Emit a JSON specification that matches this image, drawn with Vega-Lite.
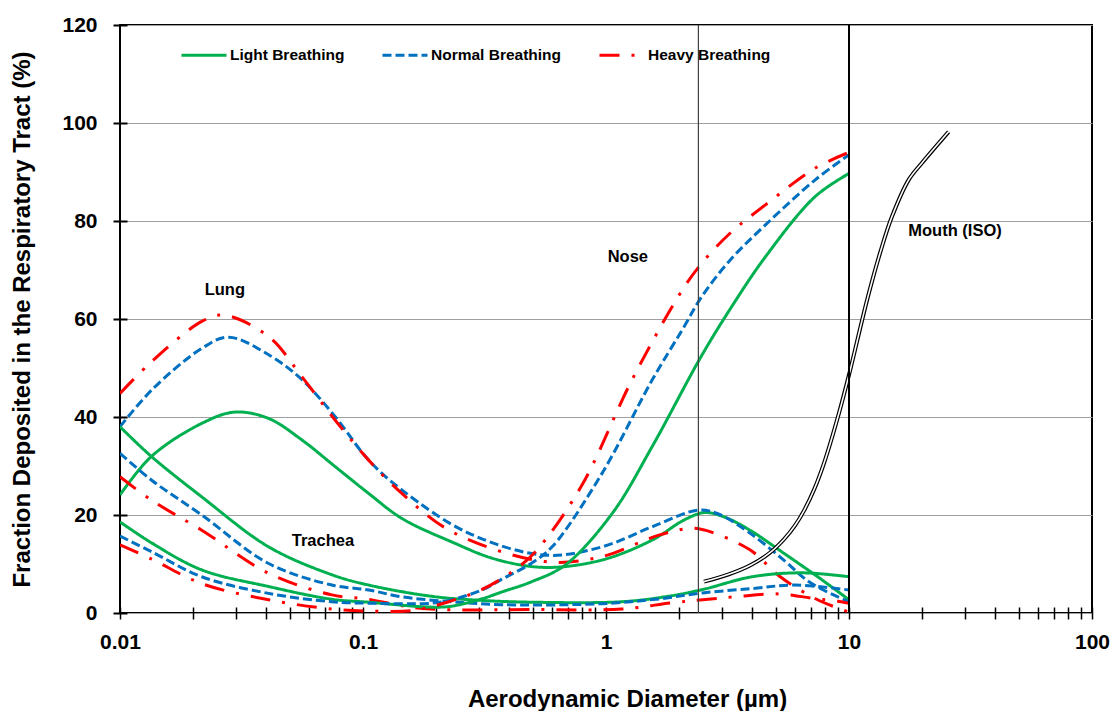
{
  "$schema": "https://vega.github.io/schema/vega-lite/v6.json",
  "width": 972,
  "height": 588,
  "autosize": {"type": "none"},
  "padding": {"left": 120, "top": 25, "right": 22, "bottom": 98},
  "background": "white",
  "config": {
    "font": "Liberation Sans",
    "view": {"stroke": "black", "strokeWidth": 2}
  },
  "datasets": {
    "curves": [
      {"region": "Lung", "breathing": "Light Breathing", "d": 0.01, "f": 24.1},
      {"region": "Lung", "breathing": "Light Breathing", "d": 0.0135, "f": 32},
      {"region": "Lung", "breathing": "Light Breathing", "d": 0.0217, "f": 38.7},
      {"region": "Lung", "breathing": "Light Breathing", "d": 0.0297, "f": 41.0},
      {"region": "Lung", "breathing": "Light Breathing", "d": 0.0409, "f": 39.7},
      {"region": "Lung", "breathing": "Light Breathing", "d": 0.0561, "f": 35.3},
      {"region": "Lung", "breathing": "Light Breathing", "d": 0.0767, "f": 29.9},
      {"region": "Lung", "breathing": "Light Breathing", "d": 0.1055, "f": 24.4},
      {"region": "Lung", "breathing": "Light Breathing", "d": 0.1445, "f": 19.3},
      {"region": "Lung", "breathing": "Light Breathing", "d": 0.232, "f": 14.5},
      {"region": "Lung", "breathing": "Light Breathing", "d": 0.35, "f": 11},
      {"region": "Lung", "breathing": "Light Breathing", "d": 0.56, "f": 9.3},
      {"region": "Lung", "breathing": "Light Breathing", "d": 0.96, "f": 10.8},
      {"region": "Lung", "breathing": "Light Breathing", "d": 1.55, "f": 14.9},
      {"region": "Lung", "breathing": "Light Breathing", "d": 2.1, "f": 19},
      {"region": "Lung", "breathing": "Light Breathing", "d": 2.55, "f": 20.5},
      {"region": "Lung", "breathing": "Light Breathing", "d": 3.1, "f": 19.5},
      {"region": "Lung", "breathing": "Light Breathing", "d": 3.91, "f": 16.9},
      {"region": "Lung", "breathing": "Light Breathing", "d": 5.39, "f": 12.2},
      {"region": "Lung", "breathing": "Light Breathing", "d": 7.43, "f": 7.4},
      {"region": "Lung", "breathing": "Light Breathing", "d": 10, "f": 2.7},

      {"region": "Lung", "breathing": "Normal Breathing", "d": 0.01, "f": 38},
      {"region": "Lung", "breathing": "Normal Breathing", "d": 0.0135, "f": 45.5},
      {"region": "Lung", "breathing": "Normal Breathing", "d": 0.0217, "f": 54.0},
      {"region": "Lung", "breathing": "Normal Breathing", "d": 0.028, "f": 56.3},
      {"region": "Lung", "breathing": "Normal Breathing", "d": 0.0409, "f": 52.7},
      {"region": "Lung", "breathing": "Normal Breathing", "d": 0.0561, "f": 47.6},
      {"region": "Lung", "breathing": "Normal Breathing", "d": 0.0767, "f": 40.1},
      {"region": "Lung", "breathing": "Normal Breathing", "d": 0.1055, "f": 31.2},
      {"region": "Lung", "breathing": "Normal Breathing", "d": 0.1445, "f": 25.1},
      {"region": "Lung", "breathing": "Normal Breathing", "d": 0.272, "f": 16.3},
      {"region": "Lung", "breathing": "Normal Breathing", "d": 0.562, "f": 11.8},
      {"region": "Lung", "breathing": "Normal Breathing", "d": 0.963, "f": 13.5},
      {"region": "Lung", "breathing": "Normal Breathing", "d": 1.55, "f": 17.6},
      {"region": "Lung", "breathing": "Normal Breathing", "d": 2.4, "f": 21.0},
      {"region": "Lung", "breathing": "Normal Breathing", "d": 2.9, "f": 20.2},
      {"region": "Lung", "breathing": "Normal Breathing", "d": 3.91, "f": 16.3},
      {"region": "Lung", "breathing": "Normal Breathing", "d": 5.39, "f": 10.8},
      {"region": "Lung", "breathing": "Normal Breathing", "d": 6.97, "f": 6.1},
      {"region": "Lung", "breathing": "Normal Breathing", "d": 10, "f": 2.3},

      {"region": "Lung", "breathing": "Heavy Breathing", "d": 0.01, "f": 44.8},
      {"region": "Lung", "breathing": "Heavy Breathing", "d": 0.0135, "f": 51.3},
      {"region": "Lung", "breathing": "Heavy Breathing", "d": 0.0217, "f": 59.5},
      {"region": "Lung", "breathing": "Heavy Breathing", "d": 0.0267, "f": 60.8},
      {"region": "Lung", "breathing": "Heavy Breathing", "d": 0.0409, "f": 56.4},
      {"region": "Lung", "breathing": "Heavy Breathing", "d": 0.0561, "f": 48.2},
      {"region": "Lung", "breathing": "Heavy Breathing", "d": 0.0767, "f": 39.4},
      {"region": "Lung", "breathing": "Heavy Breathing", "d": 0.1055, "f": 31.2},
      {"region": "Lung", "breathing": "Heavy Breathing", "d": 0.1445, "f": 24.4},
      {"region": "Lung", "breathing": "Heavy Breathing", "d": 0.232, "f": 16.6},
      {"region": "Lung", "breathing": "Heavy Breathing", "d": 0.56, "f": 10.5},
      {"region": "Lung", "breathing": "Heavy Breathing", "d": 0.96, "f": 11.5},
      {"region": "Lung", "breathing": "Heavy Breathing", "d": 1.65, "f": 15.9},
      {"region": "Lung", "breathing": "Heavy Breathing", "d": 2.26, "f": 17.3},
      {"region": "Lung", "breathing": "Heavy Breathing", "d": 2.6, "f": 16.8},
      {"region": "Lung", "breathing": "Heavy Breathing", "d": 3.91, "f": 12.9},
      {"region": "Lung", "breathing": "Heavy Breathing", "d": 5.21, "f": 7.4},
      {"region": "Lung", "breathing": "Heavy Breathing", "d": 7.43, "f": 2.7},
      {"region": "Lung", "breathing": "Heavy Breathing", "d": 10, "f": 0.2},

      {"region": "Trachea", "breathing": "Light Breathing", "d": 0.01, "f": 38},
      {"region": "Trachea", "breathing": "Light Breathing", "d": 0.0135, "f": 31.9},
      {"region": "Trachea", "breathing": "Light Breathing", "d": 0.0217, "f": 23.7},
      {"region": "Trachea", "breathing": "Light Breathing", "d": 0.0409, "f": 13.5},
      {"region": "Trachea", "breathing": "Light Breathing", "d": 0.0745, "f": 7.8},
      {"region": "Trachea", "breathing": "Light Breathing", "d": 0.1055, "f": 5.7},
      {"region": "Trachea", "breathing": "Light Breathing", "d": 0.192, "f": 3.4},
      {"region": "Trachea", "breathing": "Light Breathing", "d": 0.3, "f": 2.6},
      {"region": "Trachea", "breathing": "Light Breathing", "d": 0.5, "f": 2.2},
      {"region": "Trachea", "breathing": "Light Breathing", "d": 1.16, "f": 2.3},
      {"region": "Trachea", "breathing": "Light Breathing", "d": 1.8, "f": 3.4},
      {"region": "Trachea", "breathing": "Light Breathing", "d": 2.5, "f": 4.8},
      {"region": "Trachea", "breathing": "Light Breathing", "d": 4.0, "f": 7.4},
      {"region": "Trachea", "breathing": "Light Breathing", "d": 6.4, "f": 8.2},
      {"region": "Trachea", "breathing": "Light Breathing", "d": 10, "f": 7.4},

      {"region": "Trachea", "breathing": "Normal Breathing", "d": 0.01, "f": 32.6},
      {"region": "Trachea", "breathing": "Normal Breathing", "d": 0.0135, "f": 27.1},
      {"region": "Trachea", "breathing": "Normal Breathing", "d": 0.0217, "f": 20},
      {"region": "Trachea", "breathing": "Normal Breathing", "d": 0.0409, "f": 10.1},
      {"region": "Trachea", "breathing": "Normal Breathing", "d": 0.0745, "f": 5.7},
      {"region": "Trachea", "breathing": "Normal Breathing", "d": 0.1055, "f": 4.7},
      {"region": "Trachea", "breathing": "Normal Breathing", "d": 0.1445, "f": 3.3},
      {"region": "Trachea", "breathing": "Normal Breathing", "d": 0.232, "f": 2.3},
      {"region": "Trachea", "breathing": "Normal Breathing", "d": 0.373, "f": 1.7},
      {"region": "Trachea", "breathing": "Normal Breathing", "d": 0.96, "f": 1.9},
      {"region": "Trachea", "breathing": "Normal Breathing", "d": 1.6, "f": 2.8},
      {"region": "Trachea", "breathing": "Normal Breathing", "d": 2.5, "f": 4.1},
      {"region": "Trachea", "breathing": "Normal Breathing", "d": 4.0, "f": 5.0},
      {"region": "Trachea", "breathing": "Normal Breathing", "d": 6.0, "f": 5.7},
      {"region": "Trachea", "breathing": "Normal Breathing", "d": 10, "f": 4.7},

      {"region": "Trachea", "breathing": "Heavy Breathing", "d": 0.01, "f": 27.8},
      {"region": "Trachea", "breathing": "Heavy Breathing", "d": 0.0135, "f": 23},
      {"region": "Trachea", "breathing": "Heavy Breathing", "d": 0.0217, "f": 16.9},
      {"region": "Trachea", "breathing": "Heavy Breathing", "d": 0.0409, "f": 8.1},
      {"region": "Trachea", "breathing": "Heavy Breathing", "d": 0.0745, "f": 3.7},
      {"region": "Trachea", "breathing": "Heavy Breathing", "d": 0.1055, "f": 2.8},
      {"region": "Trachea", "breathing": "Heavy Breathing", "d": 0.14, "f": 1.6},
      {"region": "Trachea", "breathing": "Heavy Breathing", "d": 0.19, "f": 0.8},
      {"region": "Trachea", "breathing": "Heavy Breathing", "d": 0.5, "f": 0.7},
      {"region": "Trachea", "breathing": "Heavy Breathing", "d": 1.16, "f": 0.8},
      {"region": "Trachea", "breathing": "Heavy Breathing", "d": 1.87, "f": 2.1},
      {"region": "Trachea", "breathing": "Heavy Breathing", "d": 2.5, "f": 2.7},
      {"region": "Trachea", "breathing": "Heavy Breathing", "d": 3.4, "f": 3.3},
      {"region": "Trachea", "breathing": "Heavy Breathing", "d": 5.14, "f": 3.9},
      {"region": "Trachea", "breathing": "Heavy Breathing", "d": 7.1, "f": 3.0},
      {"region": "Trachea", "breathing": "Heavy Breathing", "d": 9.0, "f": 2.4},
      {"region": "Trachea", "breathing": "Heavy Breathing", "d": 10, "f": 2.0},

      {"region": "Nose", "breathing": "Light Breathing", "d": 0.01, "f": 18.6},
      {"region": "Nose", "breathing": "Light Breathing", "d": 0.0135, "f": 14.3},
      {"region": "Nose", "breathing": "Light Breathing", "d": 0.0217, "f": 8.8},
      {"region": "Nose", "breathing": "Light Breathing", "d": 0.0409, "f": 5.4},
      {"region": "Nose", "breathing": "Light Breathing", "d": 0.0745, "f": 2.8},
      {"region": "Nose", "breathing": "Light Breathing", "d": 0.1055, "f": 2.2},
      {"region": "Nose", "breathing": "Light Breathing", "d": 0.19, "f": 1.2},
      {"region": "Nose", "breathing": "Light Breathing", "d": 0.232, "f": 1.4},
      {"region": "Nose", "breathing": "Light Breathing", "d": 0.309, "f": 2.9},
      {"region": "Nose", "breathing": "Light Breathing", "d": 0.373, "f": 4.3},
      {"region": "Nose", "breathing": "Light Breathing", "d": 0.495, "f": 6.4},
      {"region": "Nose", "breathing": "Light Breathing", "d": 0.68, "f": 9.8},
      {"region": "Nose", "breathing": "Light Breathing", "d": 1.06, "f": 20.3},
      {"region": "Nose", "breathing": "Light Breathing", "d": 1.55, "f": 34},
      {"region": "Nose", "breathing": "Light Breathing", "d": 2.46, "f": 52.3},
      {"region": "Nose", "breathing": "Light Breathing", "d": 3.24, "f": 62},
      {"region": "Nose", "breathing": "Light Breathing", "d": 4.53, "f": 72.7},
      {"region": "Nose", "breathing": "Light Breathing", "d": 7.26, "f": 85.0},
      {"region": "Nose", "breathing": "Light Breathing", "d": 10, "f": 89.7},

      {"region": "Nose", "breathing": "Normal Breathing", "d": 0.01, "f": 15.7},
      {"region": "Nose", "breathing": "Normal Breathing", "d": 0.0135, "f": 12.5},
      {"region": "Nose", "breathing": "Normal Breathing", "d": 0.0217, "f": 7.4},
      {"region": "Nose", "breathing": "Normal Breathing", "d": 0.0409, "f": 4.0},
      {"region": "Nose", "breathing": "Normal Breathing", "d": 0.0745, "f": 2.3},
      {"region": "Nose", "breathing": "Normal Breathing", "d": 0.1055, "f": 2.0},
      {"region": "Nose", "breathing": "Normal Breathing", "d": 0.192, "f": 2.0},
      {"region": "Nose", "breathing": "Normal Breathing", "d": 0.232, "f": 2.7},
      {"region": "Nose", "breathing": "Normal Breathing", "d": 0.309, "f": 4.7},
      {"region": "Nose", "breathing": "Normal Breathing", "d": 0.373, "f": 6.9},
      {"region": "Nose", "breathing": "Normal Breathing", "d": 0.495, "f": 10.2},
      {"region": "Nose", "breathing": "Normal Breathing", "d": 0.6, "f": 13.5},
      {"region": "Nose", "breathing": "Normal Breathing", "d": 0.963, "f": 28.5},
      {"region": "Nose", "breathing": "Normal Breathing", "d": 1.55, "f": 47.6},
      {"region": "Nose", "breathing": "Normal Breathing", "d": 2.06, "f": 57.8},
      {"region": "Nose", "breathing": "Normal Breathing", "d": 2.48, "f": 64.6},
      {"region": "Nose", "breathing": "Normal Breathing", "d": 3.24, "f": 72.0},
      {"region": "Nose", "breathing": "Normal Breathing", "d": 4.53, "f": 79.2},
      {"region": "Nose", "breathing": "Normal Breathing", "d": 7.26, "f": 88.4},
      {"region": "Nose", "breathing": "Normal Breathing", "d": 10, "f": 93.5},

      {"region": "Nose", "breathing": "Heavy Breathing", "d": 0.01, "f": 13.9},
      {"region": "Nose", "breathing": "Heavy Breathing", "d": 0.0135, "f": 11},
      {"region": "Nose", "breathing": "Heavy Breathing", "d": 0.0217, "f": 6.0},
      {"region": "Nose", "breathing": "Heavy Breathing", "d": 0.0409, "f": 2.7},
      {"region": "Nose", "breathing": "Heavy Breathing", "d": 0.0745, "f": 0.8},
      {"region": "Nose", "breathing": "Heavy Breathing", "d": 0.1055, "f": 0.4},
      {"region": "Nose", "breathing": "Heavy Breathing", "d": 0.16, "f": 0.5},
      {"region": "Nose", "breathing": "Heavy Breathing", "d": 0.225, "f": 2.3},
      {"region": "Nose", "breathing": "Heavy Breathing", "d": 0.309, "f": 4.8},
      {"region": "Nose", "breathing": "Heavy Breathing", "d": 0.41, "f": 8.4},
      {"region": "Nose", "breathing": "Heavy Breathing", "d": 0.51, "f": 12.4},
      {"region": "Nose", "breathing": "Heavy Breathing", "d": 0.79, "f": 25.8},
      {"region": "Nose", "breathing": "Heavy Breathing", "d": 1.28, "f": 47.6},
      {"region": "Nose", "breathing": "Heavy Breathing", "d": 2.06, "f": 65.9},
      {"region": "Nose", "breathing": "Heavy Breathing", "d": 2.48, "f": 71.4},
      {"region": "Nose", "breathing": "Heavy Breathing", "d": 3.24, "f": 77.5},
      {"region": "Nose", "breathing": "Heavy Breathing", "d": 4.53, "f": 83.3},
      {"region": "Nose", "breathing": "Heavy Breathing", "d": 7.26, "f": 90.8},
      {"region": "Nose", "breathing": "Heavy Breathing", "d": 10, "f": 94.0}
    ],
    "mouth": [
      {"d": 2.53, "f": 6.4},
      {"d": 3.2, "f": 7.9},
      {"d": 3.91, "f": 9.7},
      {"d": 4.7, "f": 12.2},
      {"d": 5.39, "f": 15.0},
      {"d": 6.0, "f": 17.9},
      {"d": 6.53, "f": 20.9},
      {"d": 7.2, "f": 25.3},
      {"d": 7.92, "f": 30.8},
      {"d": 9.06, "f": 40.5},
      {"d": 10, "f": 48.6},
      {"d": 11.9, "f": 64.1},
      {"d": 13.5, "f": 73.9},
      {"d": 15.0, "f": 80.8},
      {"d": 17.6, "f": 88.4},
      {"d": 20, "f": 91.9},
      {"d": 25.7, "f": 98.2}
    ],
    "labels": [
      {"text": "Lung", "d": 0.027, "f": 66},
      {"text": "Trachea", "d": 0.0684, "f": 14.7},
      {"text": "Nose", "d": 1.23, "f": 72.7},
      {"text": "Mouth (ISO)", "d": 27.3, "f": 78}
    ]
  },
  "encoding": {
    "x": {
      "field": "d",
      "type": "quantitative",
      "scale": {"type": "log", "domain": [0.01, 100], "nice": false},
      "axis": {
        "values": [0.01, 0.02, 0.03, 0.04, 0.05, 0.06, 0.07, 0.08, 0.09, 0.1, 0.2, 0.3, 0.4, 0.5, 0.6, 0.7, 0.8, 0.9, 1, 2, 3, 4, 5, 6, 7, 8, 9, 10, 20, 30, 40, 50, 60, 70, 80, 90, 100],
        "labelExpr": "indexof([0.01, 0.1, 1, 10, 100], datum.value) >= 0 ? format(datum.value, '~g') : ''",
        "offset": -6,
        "domain": false,
        "grid": false,
        "tickSize": 12,
        "tickWidth": 1.5,
        "tickColor": "black",
        "labelFontSize": 21,
        "labelFontWeight": "bold",
        "labelColor": "black",
        "labelPadding": 12,
        "labelFlush": false,
        "labelOverlap": false,
        "labelBound": false,
        "title": "Aerodynamic Diameter (µm)",
        "titleFontSize": 24,
        "titleFontWeight": "bold",
        "titleColor": "black",
        "titleX": 507,
        "titleY": 92,
        "titleBaseline": "middle",
        "titleAlign": "center"
      }
    },
    "y": {
      "field": "f",
      "type": "quantitative",
      "scale": {"domain": [0, 120], "nice": false},
      "axis": {
        "values": [0, 20, 40, 60, 80, 100, 120],
        "offset": -7,
        "domain": false,
        "grid": true,
        "gridColor": "#a0a0a0",
        "gridWidth": 1,
        "tickSize": 14,
        "tickWidth": 2,
        "tickColor": "black",
        "labelFontSize": 21,
        "labelFontWeight": "bold",
        "labelColor": "black",
        "labelPadding": 16,
        "labelFlush": false,
        "labelOverlap": false,
        "labelBound": false,
        "title": "Fraction Deposited in the Respiratory Tract (%)",
        "titleFontSize": 24,
        "titleFontWeight": "bold",
        "titleColor": "black",
        "titleX": -105,
        "titleY": 294,
        "titleBaseline": "middle",
        "titleAlign": "center"
      }
    }
  },
  "layer": [
    {
      "data": {"name": "curves"},
      "mark": {"type": "line", "strokeWidth": 3, "interpolate": "catmull-rom", "clip": true},
      "encoding": {
        "color": {
          "field": "breathing",
          "type": "nominal",
          "scale": {"domain": ["Light Breathing", "Normal Breathing", "Heavy Breathing"], "range": ["#00B050", "#0070C0", "#FF0000"]},
          "legend": {
            "orient": "none", "legendX": 60, "legendY": 6, "direction": "horizontal", "columns": 3,
            "title": null, "symbolType": "stroke", "symbolSize": 2025, "symbolStrokeWidth": 3,
            "labelFontSize": 15.5, "labelFontWeight": "bold", "labelColor": "black", "labelOffset": 2,
            "columnPadding": 31, "padding": 0, "labelLimit": 300
          }
        },
        "strokeDash": {
          "field": "breathing",
          "type": "nominal",
          "scale": {"domain": ["Light Breathing", "Normal Breathing", "Heavy Breathing"], "range": [[1, 0], [9, 4], [20, 12, 3, 12]]},
          "legend": {
            "orient": "none", "legendX": 60, "legendY": 6, "direction": "horizontal", "columns": 3,
            "title": null, "symbolType": "stroke", "symbolSize": 2025, "symbolStrokeWidth": 3,
            "labelFontSize": 15.5, "labelFontWeight": "bold", "labelColor": "black", "labelOffset": 2,
            "columnPadding": 31, "padding": 0, "labelLimit": 300
          }
        },
        "detail": {"field": "region", "type": "nominal"}
      }
    },
    {
      "data": {"name": "mouth"},
      "mark": {"type": "line", "strokeWidth": 4, "color": "black", "interpolate": "catmull-rom"},
      "encoding": {}
    },
    {
      "data": {"name": "mouth"},
      "mark": {"type": "line", "strokeWidth": 1.6, "color": "white", "interpolate": "catmull-rom"},
      "encoding": {}
    },
    {
      "data": {"values": [{"d": 2.4}]},
      "mark": {"type": "rule", "color": "#404040", "strokeWidth": 1.2},
      "encoding": {"y": null}
    },
    {
      "data": {"values": [{"d": 10}]},
      "mark": {"type": "rule", "color": "black", "strokeWidth": 2},
      "encoding": {"y": null}
    },
    {
      "data": {"name": "labels"},
      "mark": {"type": "text", "fontSize": 16.5, "fontWeight": "bold", "color": "black", "align": "center", "baseline": "middle"},
      "encoding": {"text": {"field": "text", "type": "nominal"}}
    }
  ]
}
